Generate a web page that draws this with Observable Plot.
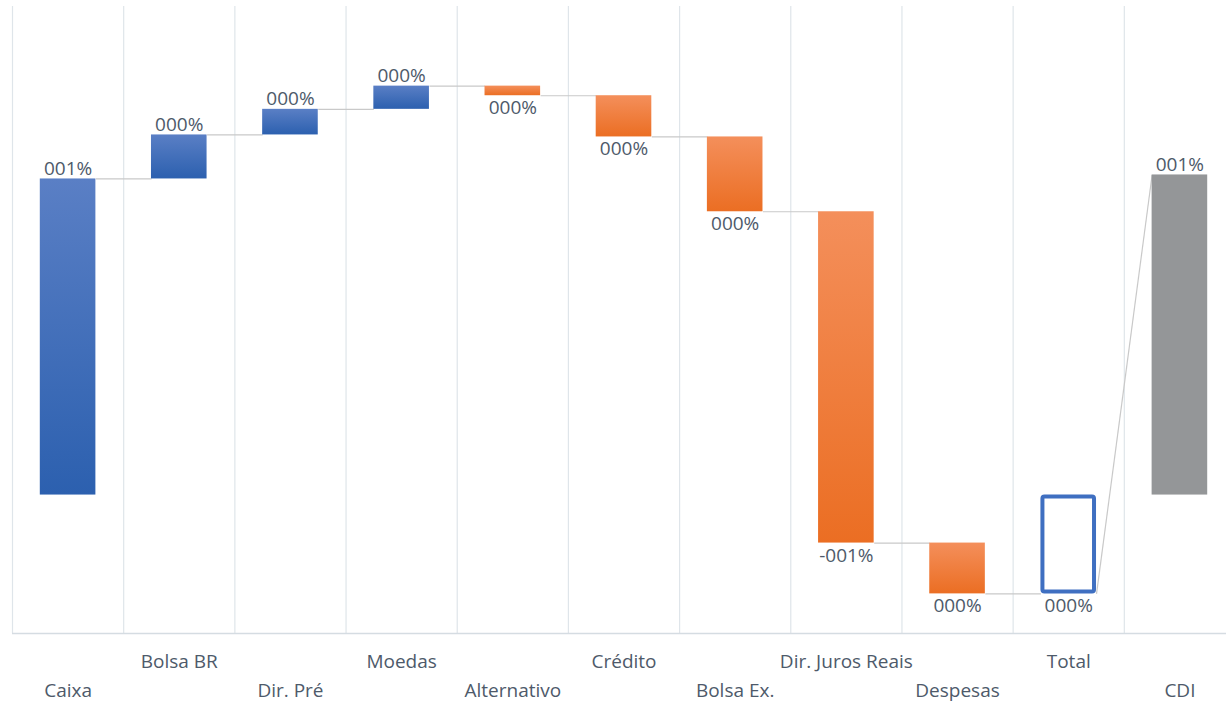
<!DOCTYPE html>
<html>
<head>
<meta charset="utf-8">
<script src="https://cdn.jsdelivr.net/npm/d3@7"></script>
<script src="https://cdn.jsdelivr.net/npm/@observablehq/plot@0.6"></script>
<style>
  html, body { margin: 0; padding: 0; background: #ffffff; overflow: hidden; }
  #chart svg { display: block; }
</style>
</head>
<body>
<div id="chart"></div>
<script>
// ---- data ----
const categories = ["Caixa", "Bolsa BR", "Dir. Pré", "Moedas", "Alternativo", "Crédito", "Bolsa Ex.", "Dir. Juros Reais", "Despesas"];
const steps = [0.79, 0.11, 0.064, 0.058, -0.024, -0.103, -0.187, -0.828, -0.127];
const totalName = "Total";
const benchmarkName = "CDI";
const benchmarkValue = 0.80;
const axisLabels = [...categories, totalName, benchmarkName];

// ---- build waterfall table ----
let cum = 0;
const stepRows = steps.map((v, i) => {
  const row = {i, start: cum, end: cum + v, value: v};
  cum += v;
  return row;
});
const total = cum;
const totalRow = {i: categories.length, start: 0, end: total, value: total};
const cdiRow = {i: categories.length + 1, start: 0, end: benchmarkValue, value: benchmarkValue};
const allRows = [...stepRows, totalRow, cdiRow];

const connectors = stepRows.map(d => ({x1: d.i + 0.25, x2: d.i + 0.75, y1: d.end, y2: d.end}));
connectors.push({x1: totalRow.i + 0.25, x2: cdiRow.i - 0.25, y1: total, y2: benchmarkValue});

const fmt = v => {
  const r = Math.round(v);
  return (r < 0 ? "-" : "") + String(Math.abs(r)).padStart(3, "0") + "%";
};

const up = allRows.filter(d => d.value >= 0);
const down = allRows.filter(d => d.value < 0);
const yMin = -0.346;
const textColor = "#4e5a6a";

const chart = Plot.plot({
  width: 1226,
  height: 703,
  marginLeft: 12,
  marginRight: -9,
  marginTop: 6,
  marginBottom: 70,
  style: {fontFamily: "'Open Sans', sans-serif", fontSize: "19px", background: "#ffffff"},
  x: {type: "linear", domain: [-0.5, axisLabels.length - 0.5]},
  y: {domain: [yMin, 1.221], axis: null},
  marks: [
    Plot.ruleX(d3.range(axisLabels.length), {x: i => i - 0.5, stroke: "#dfe5ea", strokeWidth: 1.2}),
    Plot.ruleY([yMin], {stroke: "#d5dce2", strokeWidth: 1.5}),
    Plot.link(connectors, {x1: "x1", x2: "x2", y1: "y1", y2: "y2", stroke: "#c9c9c9", strokeWidth: 1.2}),
    Plot.rectY(stepRows, {
      x1: d => d.i - 0.25, x2: d => d.i + 0.25, y1: "start", y2: "end",
      fill: d => d.value >= 0 ? "url(#gBlue)" : "url(#gOrange)"
    }),
    Plot.rectY([totalRow], {
      x1: d => d.i - 0.25, x2: d => d.i + 0.25, y1: "start", y2: "end",
      fill: "#ffffff", stroke: "#3f6fc1", strokeWidth: 4, inset: 2, rx: 2
    }),
    Plot.rectY([cdiRow], {
      x1: d => d.i - 0.25, x2: d => d.i + 0.25, y1: "start", y2: "end",
      fill: "#949698"
    }),
    Plot.text(up, {x: "i", y: "end", text: d => fmt(d.value), lineAnchor: "bottom", dy: -4, fill: textColor}),
    Plot.text(down, {x: "i", y: "end", text: d => fmt(d.value), lineAnchor: "top", dy: 5, fill: textColor}),
    Plot.axisX({
      ticks: d3.range(1, axisLabels.length, 2), tickFormat: i => axisLabels[i],
      tickSize: 0, tickPadding: 21, color: textColor, label: null, fontSize: 19
    }),
    Plot.axisX({
      ticks: d3.range(0, axisLabels.length, 2), tickFormat: i => axisLabels[i],
      tickSize: 0, tickPadding: 50, color: textColor, label: null, fontSize: 19
    })
  ]
});

// gradients for bar fills
const ns = "http://www.w3.org/2000/svg";
const defs = document.createElementNS(ns, "defs");
function grad(id, top, bottom) {
  const g = document.createElementNS(ns, "linearGradient");
  g.setAttribute("id", id);
  g.setAttribute("x1", "0"); g.setAttribute("y1", "0");
  g.setAttribute("x2", "0"); g.setAttribute("y2", "1");
  [[0, top], [1, bottom]].forEach(([o, c]) => {
    const s = document.createElementNS(ns, "stop");
    s.setAttribute("offset", o);
    s.setAttribute("stop-color", c);
    g.appendChild(s);
  });
  defs.appendChild(g);
}
grad("gBlue", "#5a7fc5", "#2c60af");
grad("gOrange", "#f48f5b", "#eb6e23");
chart.insertBefore(defs, chart.firstChild);

document.getElementById("chart").appendChild(chart);
</script>
</body>
</html>
